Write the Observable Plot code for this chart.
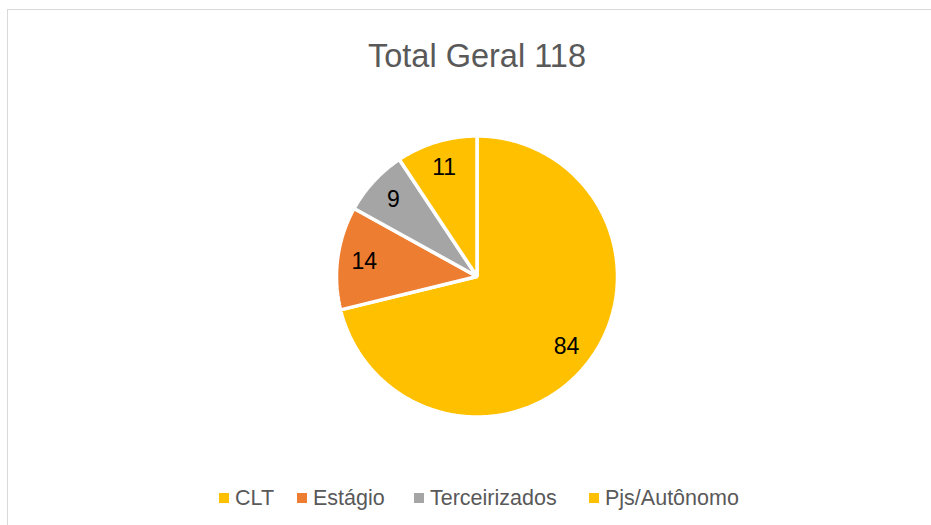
<!DOCTYPE html>
<html>
<head>
<meta charset="utf-8">
<script src="https://cdn.jsdelivr.net/npm/d3@7"></script>
<script src="https://cdn.jsdelivr.net/npm/@observablehq/plot@0.6"></script>
<style>
  html, body { margin: 0; padding: 0; background: #fff; }
  #wrap { position: relative; width: 931px; height: 525px; overflow: hidden; font-family: "Liberation Sans", Arial, sans-serif; }
  #frame { position: absolute; left: 7px; top: 9px; width: 940px; height: 540px; border-top: 1px solid #d9d9d9; border-left: 1px solid #d9d9d9; box-sizing: border-box; }
  #chart { position: absolute; left: 0; top: 0; }
  #title { position: absolute; left: 477px; top: 39.5px; transform: translateX(-50%); font-size: 32.5px; line-height: 1; color: #595959; white-space: nowrap; }
  .leg { position: absolute; top: 487.8px; font-size: 21.5px; line-height: 1; color: #595959; white-space: nowrap; }
  .sw { position: absolute; top: 493px; width: 10px; height: 10px; }
</style>
</head>
<body>
<div id="wrap">
  <div id="frame"></div>
  <div id="chart"></div>
  <div id="title"></div>
  <div id="legend"></div>
</div>
<script>
const title = "Total Geral 118";
const categories = ["CLT", "Estágio", "Terceirizados", "Pjs/Autônomo"];
const values = [84, 14, 9, 11];
const colors = ["#FFC000", "#ED7D31", "#A5A5A5", "#FFC000"];

// pie geometry in unit-circle data space (y up)
const arcs = d3.pie().sort(null).value(d => d)(values);
const pts = [];
const labels = [];
arcs.forEach((a, i) => {
  const cat = categories[i];
  pts.push({cat, x: 0, y: 0});
  const n = Math.max(2, Math.ceil((a.endAngle - a.startAngle) / (Math.PI / 180)));
  for (let k = 0; k <= n; k++) {
    const t = a.startAngle + (a.endAngle - a.startAngle) * k / n;
    pts.push({cat, x: Math.sin(t), y: Math.cos(t)});
  }
  const m = (a.startAngle + a.endAngle) / 2;
  labels.push({cat, x: 0.81 * Math.sin(m), y: 0.81 * Math.cos(m), text: String(values[i])});
});

const chart = Plot.plot({
  width: 931,
  height: 525,
  marginLeft: 336,
  marginRight: 314,
  marginTop: 135.5,
  marginBottom: 108.5,
  x: {domain: [-1, 1], axis: null},
  y: {domain: [-1, 1], axis: null},
  color: {domain: categories, range: colors},
  style: {background: "transparent", fontFamily: "Liberation Sans, Arial, sans-serif"},
  marks: [
    Plot.line(pts, {x: "x", y: "y", z: "cat", fill: "cat", stroke: "white", strokeWidth: 3.5, strokeLinejoin: "miter", curve: "linear-closed"}),
    Plot.text(labels, {x: "x", y: "y", text: "text", fontSize: 23, fill: "#000", textAnchor: "middle", lineAnchor: "middle"})
  ]
});
document.getElementById("chart").appendChild(chart);
document.getElementById("title").textContent = title;

// legend
const legX = [219, 297, 414, 589];
const wrap = document.getElementById("legend");
categories.forEach((c, i) => {
  const sw = document.createElement("div");
  sw.className = "sw";
  sw.style.left = legX[i] + "px";
  sw.style.background = colors[i];
  wrap.appendChild(sw);
  const t = document.createElement("div");
  t.className = "leg";
  t.style.left = (legX[i] + 16) + "px";
  t.textContent = c;
  wrap.appendChild(t);
});
</script>
</body>
</html>
